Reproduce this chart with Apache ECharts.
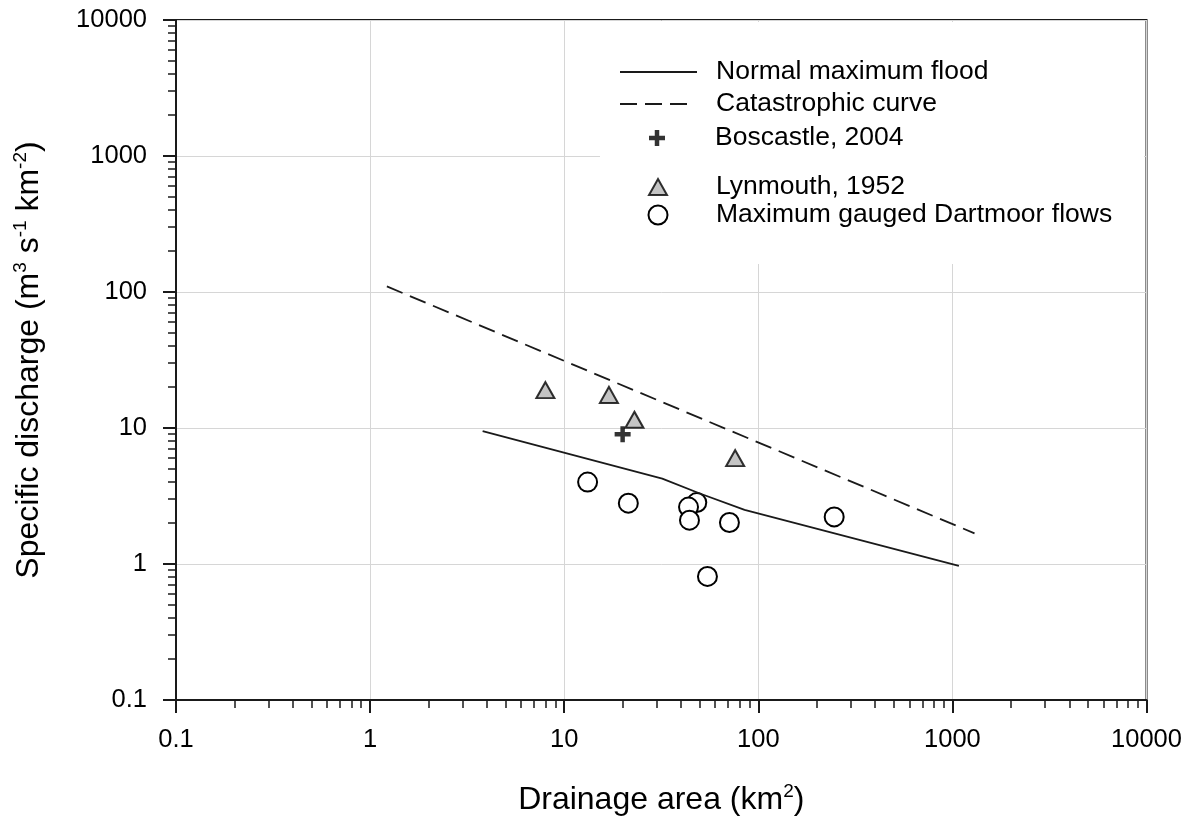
<!DOCTYPE html>
<html>
<head>
<meta charset="utf-8">
<script src="https://cdn.jsdelivr.net/npm/echarts@6/dist/echarts.min.js"></script>
<style>
  html, body { margin: 0; padding: 0; background: #fff; }
  #chart { width: 1195px; height: 828px; }
</style>
</head>
<body>
<div id="chart"></div>
<script>
// values, [drainage area km2, specific discharge]
const normal_flood = [[3.8, 9.5], [32, 4.25], [50, 3.3], [85, 2.5], [1080, 0.97]];
const catastrophic = [[1.22, 110], [1300, 1.68]];
const boscastle = [[20, 9]];
const lynmouth = [[8, 19], [17, 17.5], [23, 11.5], [76, 6]];
const dartmoor = [[13.2, 4.0], [21.4, 2.8], [48.2, 2.83], [43.7, 2.62], [44.2, 2.1],
                  [71, 2.02], [54.7, 0.81], [246, 2.22]];

// axis ranges and minor tick marks (2..9 in every decade)
const x_range = [0.1, 10000];
const y_range = [0.1, 10000];
const decades = [0.1, 1, 10, 100, 1000];
const minor_steps = [2, 3, 4, 5, 6, 7, 8, 9];

const FONT = "'Liberation Sans', Arial, sans-serif";
const INK = '#1a1a1a';

function minor_ticks() {
  const out = [];
  decades.forEach(function(d) {
    minor_steps.forEach(function(s) { out.push(+(d * s).toPrecision(3)); });
  });
  return out;
}

const sup = { fontSize: 19, fontFamily: FONT, color: '#000', verticalAlign: 'top', lineHeight: 20 };

function major_axis(dim, range) {
  const horiz = dim == 'x';
  return {
    type: 'log', logBase: 10,
    min: range[0], max: range[1],
    position: horiz ? 'bottom' : 'left',
    axisLine: { show: true, lineStyle: { color: INK, width: 2 } },
    axisTick: { show: true, length: 13, lineStyle: { color: INK, width: 2 } },
    axisLabel: {
      margin: horiz ? 27 : 29, fontSize: 25.5, color: '#000', fontFamily: FONT,
      formatter: function(v) { return String(v); },
    },
    splitLine: { show: true, lineStyle: { color: '#d6d6d6', width: 1 } },
    name: horiz ? 'Drainage area (km{sup|2})'
                : 'Specific discharge (m{sup|3} s{sup|-1} km{sup|-2})',
    nameLocation: 'middle',
    nameGap: horiz ? 82 : 128,
    nameTextStyle: {
      fontSize: 32, fontFamily: FONT, color: '#000', lineHeight: 37,
      rich: { sup: sup },
    },
  };
}

function minor_axis(dim, range) {
  return {
    type: 'log', logBase: 10,
    min: range[0], max: range[1],
    position: dim == 'x' ? 'bottom' : 'left',
    axisLine: { show: false },
    axisLabel: { show: false },
    splitLine: { show: false },
    axisTick: {
      show: true, length: 8, customValues: minor_ticks(),
      lineStyle: { color: INK, width: 1.5 },
    },
  };
}

// one legend per row so the rows can sit where the figure has them
function legend_row(name, center_y, left, w, h, line_only) {
  const row = {
    data: [name], left: left, top: center_y - 15,
    padding: 0, itemWidth: w, itemHeight: h, selectedMode: false,
    textStyle: {
      fontSize: 26.5, lineHeight: 30, color: '#000', fontFamily: FONT,
      padding: [0, 0, 0, 715 - (left + w + 5)],
    },
  };
  // line keys: hide the dot echarts puts in the middle
  if (line_only) row.itemStyle = { opacity: 0 };
  return row;
}

const plus_path = 'path://M36,0H64V36H100V64H64V100H36V64H0V36H36Z';

const option = {
  animation: false,
  backgroundColor: '#fff',
  grid: {
    left: 176, right: 48.5, top: 20, bottom: 128,
    show: true, borderColor: INK, borderWidth: 2, backgroundColor: 'transparent',
  },
  xAxis: [major_axis('x', x_range), minor_axis('x', x_range)],
  yAxis: [major_axis('y', y_range), minor_axis('y', y_range)],
  // white box behind the key, hides the grid lines there
  graphic: [{
    type: 'rect', z: 1, silent: true,
    shape: { x: 600, y: 22, width: 544, height: 242 },
    style: { fill: '#fff' },
  }],
  legend: [
    legend_row('Normal maximum flood', 72, 619, 77, 14, true),
    legend_row('Catastrophic curve', 104, 619, 70, 14, true),
    legend_row('Boscastle, 2004', 138, 649, 16, 16),
    legend_row('Lynmouth, 1952', 187, 648, 18, 16),
    legend_row('Maximum gauged Dartmoor flows', 215, 647.5, 19, 19),
  ],
  series: [
    {
      name: 'Normal maximum flood', type: 'line', data: normal_flood,
      symbol: 'none', lineStyle: { color: INK, width: 1.8 },
      itemStyle: { color: INK },
    },
    {
      name: 'Catastrophic curve', type: 'line', data: catastrophic,
      symbol: 'none', lineStyle: { color: INK, width: 1.8, type: [17, 8] },
      itemStyle: { color: INK },
    },
    {
      name: 'Boscastle, 2004', type: 'scatter', data: boscastle,
      symbol: plus_path, symbolSize: 16,
      itemStyle: { color: '#000' },
    },
    {
      name: 'Lynmouth, 1952', type: 'scatter', data: lynmouth,
      symbol: 'triangle', symbolSize: [18, 16],
      itemStyle: { color: '#b5b5b5', borderColor: '#000', borderWidth: 2 },
    },
    {
      name: 'Maximum gauged Dartmoor flows', type: 'scatter', data: dartmoor,
      symbol: 'circle', symbolSize: 19,
      itemStyle: { color: '#fff', borderColor: '#000', borderWidth: 2, opacity: 1 },
    },
  ],
};

const chart = echarts.init(document.getElementById('chart'), null, { renderer: 'canvas' });
chart.setOption(option);
</script>
</body>
</html>
